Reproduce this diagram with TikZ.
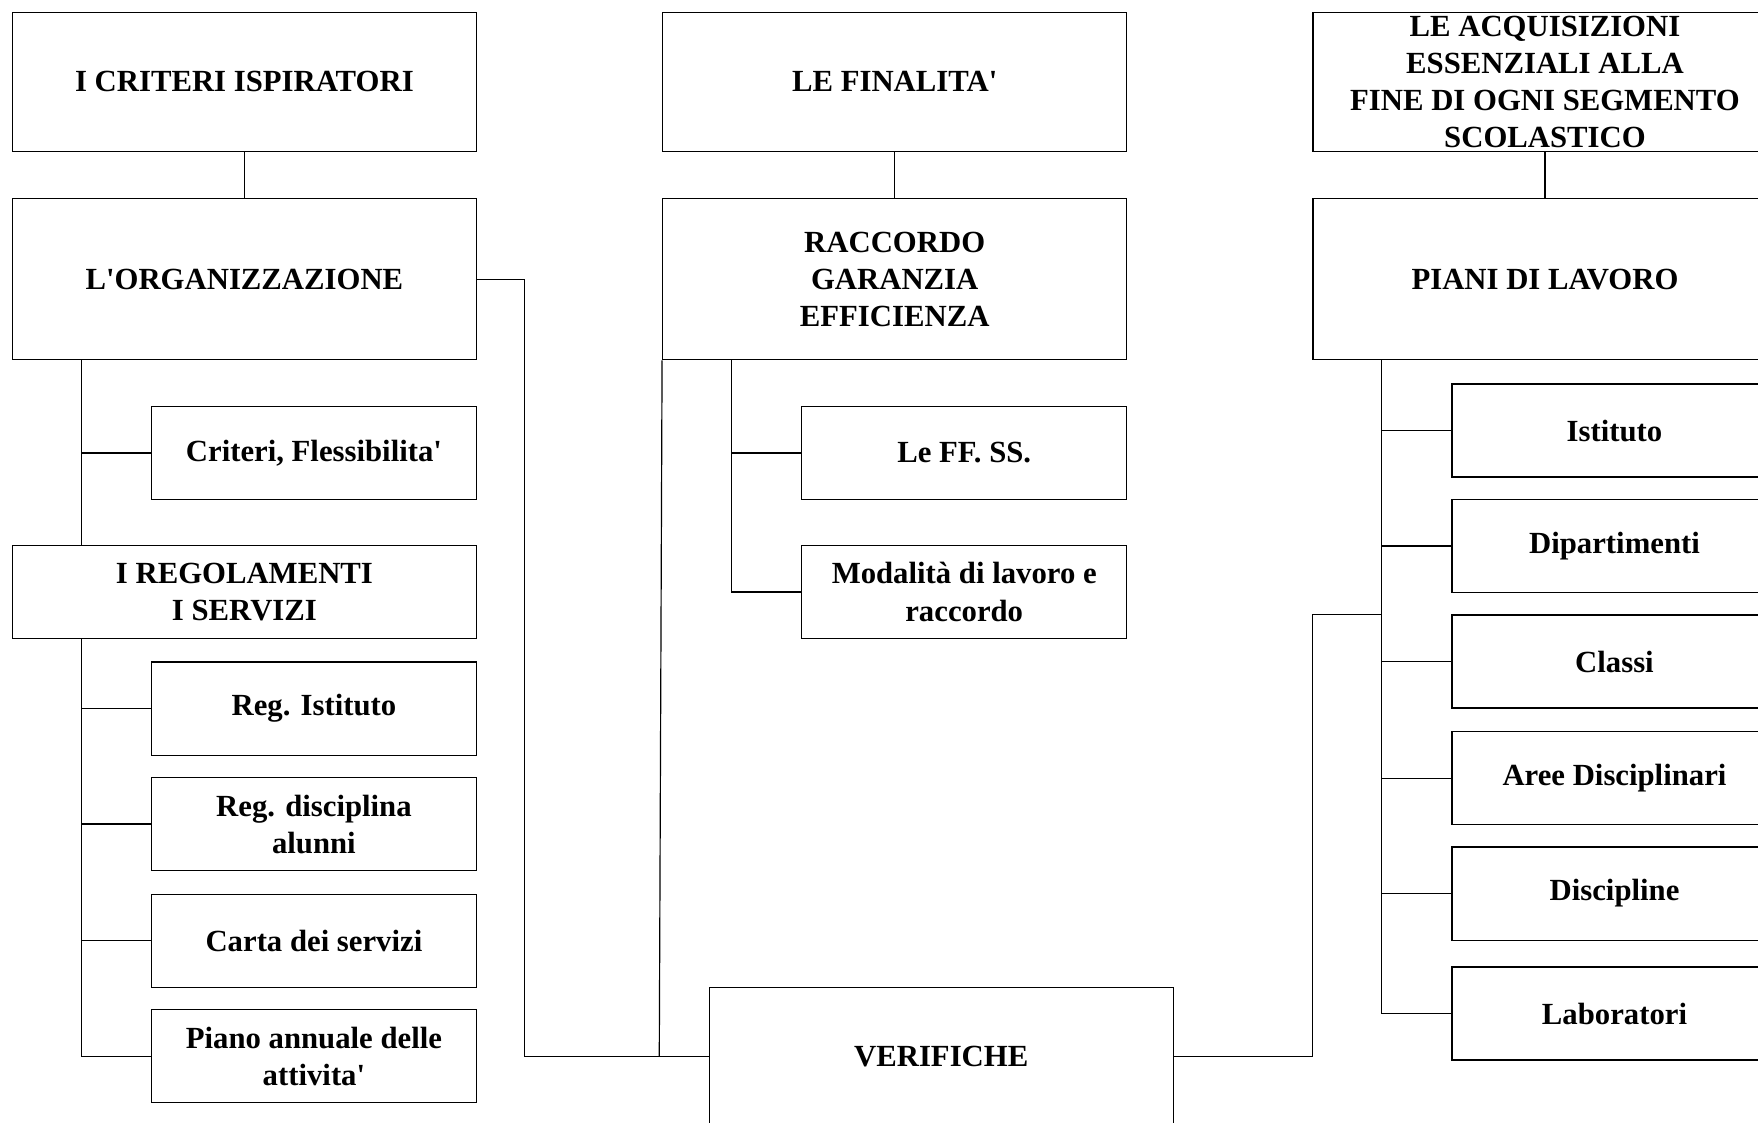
\documentclass[tikz,border=0pt]{standalone}
\usepackage{fontspec}
\setmainfont{Liberation Serif}[Ligatures=TeXOff]
\tikzset{
  bigbox/.style={draw, minimum width=8.28cm, minimum height=2.48cm, align=center, inner sep=0pt},
  tallbox/.style={bigbox, minimum height=2.88cm},
  midbox/.style={bigbox, minimum height=1.66cm},
  subbox/.style={draw, minimum width=5.8cm, minimum height=1.66cm, align=center, inner sep=0pt},
}
\begin{document}
\begin{tikzpicture}[x=0.02cm, y=-0.02cm, line width=0.6pt,
  every node/.style={font=\fontsize{15.6}{18.8}\selectfont\bfseries}]
\useasboundingbox (0,0) rectangle (1568,1001);
\clip (0,0) rectangle (1568,1001);
% first column
\node[bigbox] (crit) at (218,73) {I CRITERI ISPIRATORI};
\node[tallbox] (org) at (218,249) {L'ORGANIZZAZIONE};
\node[subbox] (flex) at (280,404) {Criteri, Flessibilita'};
\node[midbox] (reg) at (218,528) {I REGOLAMENTI\\I SERVIZI};
\node[subbox] (regist) at (280,632) {Reg. Istituto};
\node[subbox] (regdisc) at (280,735) {Reg. disciplina\\alunni};
\node[subbox] (carta) at (280,839) {Carta dei servizi};
\node[subbox] (piano) at (280,942) {Piano annuale delle\\attivita'};
% second column
\node[bigbox] (fin) at (798,73) {LE FINALITA'};
\node[tallbox] (rac) at (798,249) {RACCORDO\\GARANZIA\\EFFICIENZA};
\node[subbox] (ffss) at (860,404) {Le FF. SS.};
\node[subbox] (moda) at (860,528) {Modalità di lavoro e\\raccordo};
\node[bigbox, minimum height=2.44cm] (ver) at (839.5,942) {VERIFICHE};
% third column
\node[bigbox] (acq) at (1378,73) {LE ACQUISIZIONI\\ESSENZIALI ALLA\\FINE DI OGNI SEGMENTO\\SCOLASTICO};
\node[tallbox] (piani) at (1378,249) {PIANI DI LAVORO};
\node[subbox] (ist) at (1440,384) {Istituto};
\node[subbox] (dip) at (1440,487) {Dipartimenti};
\node[subbox] (cla) at (1440,590) {Classi};
\node[subbox] (aree) at (1440,694) {Aree Disciplinari};
\node[subbox] (disc) at (1440,797) {Discipline};
\node[subbox] (lab) at (1440,904) {Laboratori};
% connectors
\draw (crit) -- (org);
\draw (fin) -- (rac);
\draw (acq) -- (piani);
\coordinate (ot) at ([xshift=1.24cm]org.south west);
\draw (ot) -- (ot |- reg.north);
\draw (ot) |- (flex.west);
\coordinate (rt) at ([xshift=1.24cm]reg.south west);
\foreach \n in {regist,regdisc,carta,piano} \draw (rt) |- (\n.west);
\coordinate (ct) at ([xshift=1.24cm]rac.south west);
\foreach \n in {ffss,moda} \draw (ct) |- (\n.west);
\coordinate (pt) at ([xshift=1.24cm]piani.south west);
\foreach \n in {ist,dip,cla,aree,disc,lab} \draw (pt) |- (\n.west);
\draw (org.east) -- ++(42,0) |- (ver.west);
\draw (rac.south west) -- ([xshift=-0.88cm]ver.west);
\draw (ver.east) -| (piani.west |- cla.north) -- (pt |- cla.north);
\end{tikzpicture}
\end{document}
